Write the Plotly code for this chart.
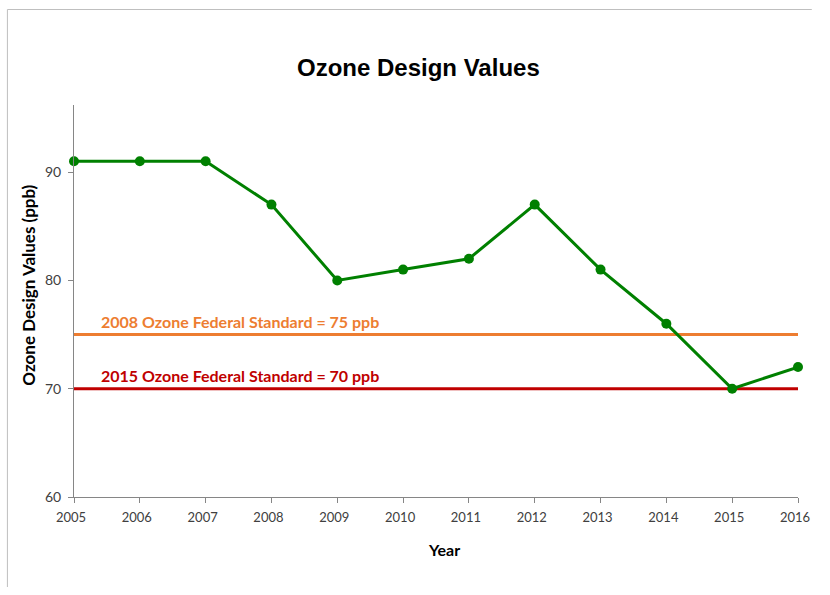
import plotly.graph_objects as go

years = [2005, 2006, 2007, 2008, 2009, 2010, 2011, 2012, 2013, 2014, 2015, 2016]
ozone = [91, 91, 91, 87, 80, 81, 82, 87, 81, 76, 70, 72]
std_2008 = 75
std_2015 = 70
std_2008_label = "2008 Ozone Federal Standard = 75 ppb"
std_2015_label = "2015 Ozone Federal Standard = 70 ppb"
y_ticks = [60, 70, 80, 90]

# figure kept 8px smaller than the window so the page never overflows
W, H = 822, 587
L, T = 74, 105
R = W - 808
B = H - 497
pw, ph = W - L - R, H - T - B

def px2x(px):
    return (px - L) / pw

def px2y(py):
    return (H - B - py) / ph

font_main = "Lato, Open Sans, sans-serif"

fig = go.Figure()
fig.add_trace(go.Scatter(x=[years[0], years[-1]], y=[std_2008, std_2008], mode="lines",
                         line=dict(color="#ED7D31", width=3), hoverinfo="skip", showlegend=False))
fig.add_trace(go.Scatter(x=[years[0], years[-1]], y=[std_2015, std_2015], mode="lines",
                         line=dict(color="#C00000", width=3), hoverinfo="skip", showlegend=False))
fig.add_trace(go.Scatter(x=years, y=ozone, mode="lines+markers",
                         line=dict(color="#008000", width=3),
                         marker=dict(color="#008000", size=10), showlegend=False, cliponaxis=False))

fig.add_annotation(x=2005.38, y=std_2008, yshift=2, text=std_2008_label, showarrow=False,
                   xanchor="left", yanchor="bottom",
                   font=dict(family=font_main, size=16, color="#ED7D31", weight="bold"))
fig.add_annotation(x=2005.38, y=std_2015, yshift=2, text=std_2015_label, showarrow=False,
                   xanchor="left", yanchor="bottom",
                   font=dict(family=font_main, size=16, color="#C00000", weight="bold"))

fig.add_annotation(xref="paper", yref="paper", x=px2x(423), y=px2y(68), text="<b>Ozone Design Values</b>",
                   showarrow=False, xanchor="center", yanchor="middle",
                   font=dict(family="Liberation Sans, sans-serif", size=24, color="#000000"))
fig.add_annotation(xref="paper", yref="paper", x=px2x(449), y=px2y(549), text="<b>Year</b>",
                   showarrow=False, xanchor="center", yanchor="middle",
                   font=dict(family=font_main, size=16, color="#000000"))
fig.add_annotation(xref="paper", yref="paper", x=px2x(27), y=px2y(285), text="<b>Ozone Design Values (ppb)</b>",
                   showarrow=False, xanchor="center", yanchor="middle", textangle=-90,
                   font=dict(family=font_main, size=17, color="#000000"))

# chart frame (left and top edges visible)
fig.add_shape(type="line", xref="paper", yref="paper", x0=px2x(6.5), y0=px2y(9.5), x1=px2x(W), y1=px2y(9.5),
              line=dict(color="#BFBFBF", width=1), layer="below")
fig.add_shape(type="line", xref="paper", yref="paper", x0=px2x(6.5), y0=px2y(9.5), x1=px2x(6.5), y1=px2y(H),
              line=dict(color="#BFBFBF", width=1), layer="below")

fig.update_layout(
    width=W, height=H, margin=dict(l=L, r=R, t=T, b=B),
    paper_bgcolor="white", plot_bgcolor="white",
    font=dict(family=font_main, size=14, color="#404040"),
    xaxis=dict(range=[2005, 2016], tickvals=years, showgrid=False, zeroline=False,
               showline=True, linecolor="#868686", linewidth=1, ticks="outside", ticklen=5,
               tickcolor="#868686", ticklabelstandoff=3, ticklabelshift=-3,
               tickfont=dict(size=13, color="#404040")),
    yaxis=dict(range=[60, 96.2], tickvals=y_ticks, showgrid=False, zeroline=False,
               showline=True, linecolor="#868686", linewidth=1, ticks="outside", ticklen=5,
               tickcolor="#868686", ticklabelstandoff=4, tickfont=dict(size=14, color="#404040")),
)
fig.write_html("out.html", config={"displayModeBar": False},
               post_script="document.body.style.margin='0';")
